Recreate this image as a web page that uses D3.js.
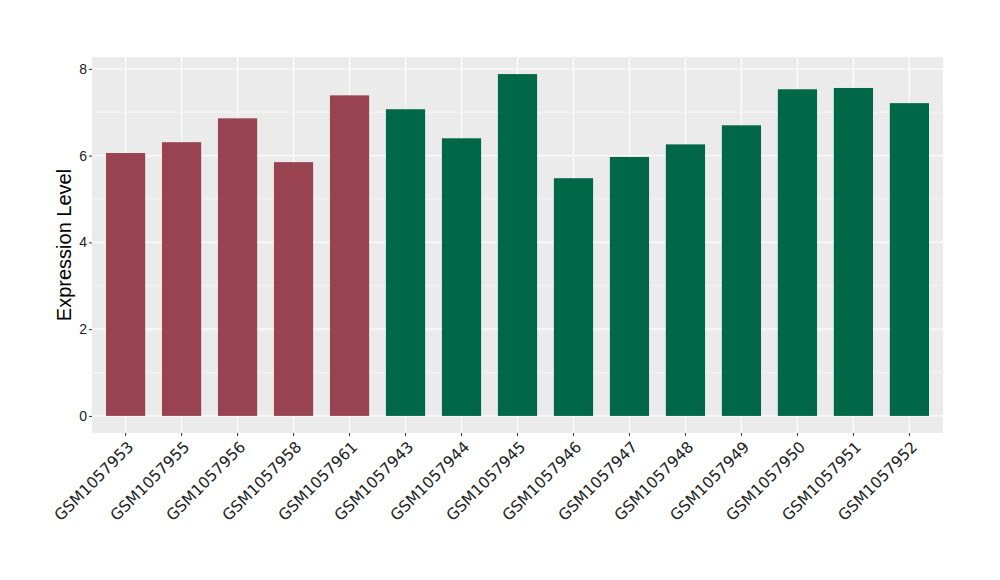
<!DOCTYPE html>
<html><head><meta charset="utf-8">
<script src="https://cdn.jsdelivr.net/npm/d3@7"></script>
<style>body{margin:0;background:#fff}</style>
</head><body>
<svg id="chart" width="1000" height="580"></svg>
<script>
const categories = ["GSM1057953","GSM1057955","GSM1057956","GSM1057958","GSM1057961","GSM1057943","GSM1057944","GSM1057945","GSM1057946","GSM1057947","GSM1057948","GSM1057949","GSM1057950","GSM1057951","GSM1057952"];
const values = [6.06,6.31,6.86,5.85,7.39,7.07,6.40,7.88,5.48,5.97,6.26,6.70,7.53,7.56,7.21];
const groups = ["A","A","A","A","A","B","B","B","B","B","B","B","B","B","B"];
const groupColors = {A:"#994250", B:"#006847"};
const yTicks = [0,2,4,6,8];
const yMinor = [1,3,5,7];

const svg = d3.select("#chart");
const panel = {left:92, right:943, top:57, bottom:433};

const maxV = d3.max(values);
const x = d3.scaleBand().domain(categories).range([panel.left, panel.right]).paddingInner(0.3).paddingOuter(0.25);
const y = d3.scaleLinear().domain([-0.05*maxV, maxV*1.05]).range([panel.bottom, panel.top]);

svg.append("rect").attr("x",panel.left).attr("y",panel.top)
  .attr("width",panel.right-panel.left).attr("height",panel.bottom-panel.top).attr("fill","#EBEBEB");

const g = svg.append("g");
g.selectAll(".minor").data(yMinor).join("line")
  .attr("x1",panel.left).attr("x2",panel.right)
  .attr("y1",d=>y(d)).attr("y2",d=>y(d)).attr("stroke","#fff").attr("stroke-width",0.6);
g.selectAll(".major").data(yTicks).join("line")
  .attr("x1",panel.left).attr("x2",panel.right)
  .attr("y1",d=>y(d)).attr("y2",d=>y(d)).attr("stroke","#fff").attr("stroke-width",1.2);
g.selectAll(".vmajor").data(categories).join("line")
  .attr("y1",panel.top).attr("y2",panel.bottom)
  .attr("x1",d=>x(d)+x.bandwidth()/2).attr("x2",d=>x(d)+x.bandwidth()/2)
  .attr("stroke","#fff").attr("stroke-width",1.2);

svg.selectAll(".bar").data(categories).join("rect")
  .attr("x",d=>x(d)).attr("width",x.bandwidth())
  .attr("y",(d,i)=>y(values[i])).attr("height",(d,i)=>y(0)-y(values[i]))
  .attr("fill",(d,i)=>groupColors[groups[i]]);

// Y axis
const yAxis = d3.axisLeft(y).tickValues(yTicks).tickSize(3).tickPadding(2).tickFormat(d3.format("d"));
const ya = svg.append("g").attr("transform",`translate(${panel.left},0)`).call(yAxis);
ya.select(".domain").remove();
ya.selectAll("line").attr("stroke","#333");
ya.selectAll("text").attr("font-family","Liberation Sans, Arial, sans-serif").attr("font-size",14).attr("fill","#222");

// X axis
const xAxis = d3.axisBottom(x).tickSize(3).tickPadding(2);
const xa = svg.append("g").attr("transform",`translate(0,${panel.bottom})`).call(xAxis);
xa.select(".domain").remove();
xa.selectAll("line").attr("stroke","#333");
xa.selectAll("text")
  .attr("font-family","DejaVu Sans, sans-serif").attr("font-size",15.5).attr("fill","#222")
  .attr("text-anchor","end").attr("dy",null).attr("y",null)
  .attr("transform","translate(1,7) rotate(-45)")
  .attr("dy","0.72em");

svg.append("text")
  .attr("transform",`translate(71,${(panel.top+panel.bottom)/2}) rotate(-90)`)
  .attr("text-anchor","middle")
  .attr("font-family","Liberation Sans, Arial, sans-serif").attr("font-size",20).attr("fill","#000")
  .text("Expression Level");
</script>
</body></html>
